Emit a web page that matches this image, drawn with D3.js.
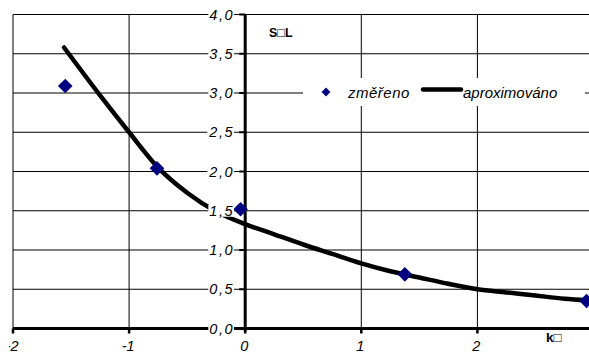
<!DOCTYPE html>
<html><head><meta charset="utf-8">
<script src="https://cdn.jsdelivr.net/npm/d3@7/dist/d3.min.js"></script>
<style>
html,body{margin:0;padding:0;background:#fff;}
svg{display:block;font-family:"Liberation Sans",Arial,sans-serif;}
</style></head>
<body><svg id="c" width="589" height="361"></svg>
<script>
// measured points (změřeno)
const measuredX = [-1.55, -0.76, -0.04, 1.375, 2.94];
const measuredY = [3.09, 2.04, 1.52, 0.69, 0.35];
// approximation curve (aproximováno)
const curveX = [-1.56, -1.25, -1.0, -0.75, -0.5, -0.25, 0, 0.25, 0.5, 0.75, 1.0, 1.25, 1.5, 1.75, 2.0, 2.25, 2.5, 2.75, 2.95];
const curveY = [3.58, 2.97, 2.50, 2.05, 1.73, 1.49, 1.33, 1.20, 1.07, 0.95, 0.83, 0.73, 0.65, 0.57, 0.50, 0.46, 0.42, 0.38, 0.36];
const xTicks = [-2, -1, 0, 1, 2];
const xTickLabels = ["-2", "-1", "0", "1", "2"];
const yTicks = [0, 0.5, 1, 1.5, 2, 2.5, 3, 3.5, 4];
const yTickLabels = ["0,0", "0,5", "1,0", "1,5", "2,0", "2,5", "3,0", "3,5", "4,0"];
const legendLabels = ["změřeno", "aproximováno"];
const yAxisTitle = "S\u25A1L";
const xAxisTitle = "k\u25A1";

const svg = d3.select("#c");
const x = d3.scaleLinear().domain([-2, 3]).range([13, 593.5]);
const y = d3.scaleLinear().domain([0, 4]).range([328.5, 14.5]);

// horizontal gridlines
svg.append("g").selectAll("line").data(yTicks.filter(d => d > 0)).join("line")
  .attr("x1", x(-2)).attr("x2", 589).attr("y1", d => y(d)).attr("y2", d => y(d))
  .attr("stroke", "#000").attr("stroke-width", 1);
// vertical gridlines
svg.append("g").selectAll("line").data(xTicks.filter(d => d !== 0)).join("line")
  .attr("x1", d => x(d)).attr("x2", d => x(d)).attr("y1", y(4)).attr("y2", y(0))
  .attr("stroke", "#000").attr("stroke-width", 1);

// axes
svg.append("line").attr("x1", x(-2)).attr("x2", 589).attr("y1", y(0)).attr("y2", y(0))
  .attr("stroke", "#000").attr("stroke-width", 3);
svg.append("line").attr("x1", x(0)).attr("x2", x(0)).attr("y1", y(4) - 0.5).attr("y2", y(0) + 3)
  .attr("stroke", "#000").attr("stroke-width", 3);
// x ticks
svg.append("g").selectAll("line").data(xTicks).join("line")
  .attr("x1", d => x(d)).attr("x2", d => x(d)).attr("y1", y(0)).attr("y2", y(0) + 5)
  .attr("stroke", "#000").attr("stroke-width", 2.5);
// y ticks
svg.append("g").selectAll("line").data(yTicks).join("line")
  .attr("x1", x(0) - 6).attr("x2", x(0)).attr("y1", d => y(d)).attr("y2", d => y(d))
  .attr("stroke", "#000").attr("stroke-width", 2);

// curve
const line = d3.line().x((d, i) => x(curveX[i])).y(d => y(d)).curve(d3.curveMonotoneX);
svg.append("path").attr("d", line(curveY)).attr("fill", "none")
  .attr("stroke", "#000").attr("stroke-width", 4.5).attr("stroke-linecap", "round");

// markers
const diamond = d3.symbol().type(d3.symbolDiamond2).size(136);
svg.append("g").selectAll("path").data(measuredY).join("path")
  .attr("transform", (d, i) => `translate(${x(measuredX[i])},${y(d)})`)
  .attr("d", diamond).attr("fill", "#000080");

// y tick labels
const yl = svg.append("g");
yTicks.forEach((d, i) => {
  const t = yl.append("text").attr("x", 234).attr("y", y(d) + 5)
    .attr("text-anchor", "end").attr("font-style", "italic").attr("font-size", 14.5)
    .attr("letter-spacing", 1.5)
    .text(yTickLabels[i]);
  const bb = t.node().getBBox();
  yl.insert("rect", "text").attr("x", bb.x - 1).attr("y", y(d) - 6).attr("width", bb.width + 1).attr("height", 12).attr("fill", "#fff");
});

// x tick labels
svg.append("g").selectAll("text").data(xTicks).join("text")
  .attr("x", d => x(d) - 1).attr("y", 351).attr("text-anchor", "middle")
  .attr("font-style", "italic").attr("font-size", 14.5).text((d, i) => xTickLabels[i]);
svg.append("rect").attr("x", 0).attr("y", 336).attr("width", 9).attr("height", 20).attr("fill", "#fff");

// axis titles
svg.append("text").attr("x", 269).attr("y", 37).attr("font-weight", "bold").attr("font-size", 12.5).text(yAxisTitle);
svg.append("text").attr("x", 546).attr("y", 342).attr("font-weight", "bold").attr("font-size", 13.5).text(xAxisTitle);

// legend
const lg = svg.append("g");
lg.append("rect").attr("x", 303).attr("y", 78).attr("width", 282).attr("height", 28).attr("fill", "#fff");
lg.append("path").attr("transform", "translate(326,92)").attr("d", d3.symbol().type(d3.symbolDiamond2).size(50)).attr("fill", "#000080");
lg.append("text").attr("x", 348).attr("y", 97.5).attr("font-style", "italic").attr("font-size", 15).attr("letter-spacing", 0.5).text(legendLabels[0]);
lg.append("line").attr("x1", 423).attr("x2", 461).attr("y1", 89.5).attr("y2", 89.5).attr("stroke", "#000").attr("stroke-width", 4.5).attr("stroke-linecap", "round");
lg.append("text").attr("x", 463).attr("y", 97.5).attr("font-style", "italic").attr("font-size", 15).text(legendLabels[1]);
</script></body></html>
